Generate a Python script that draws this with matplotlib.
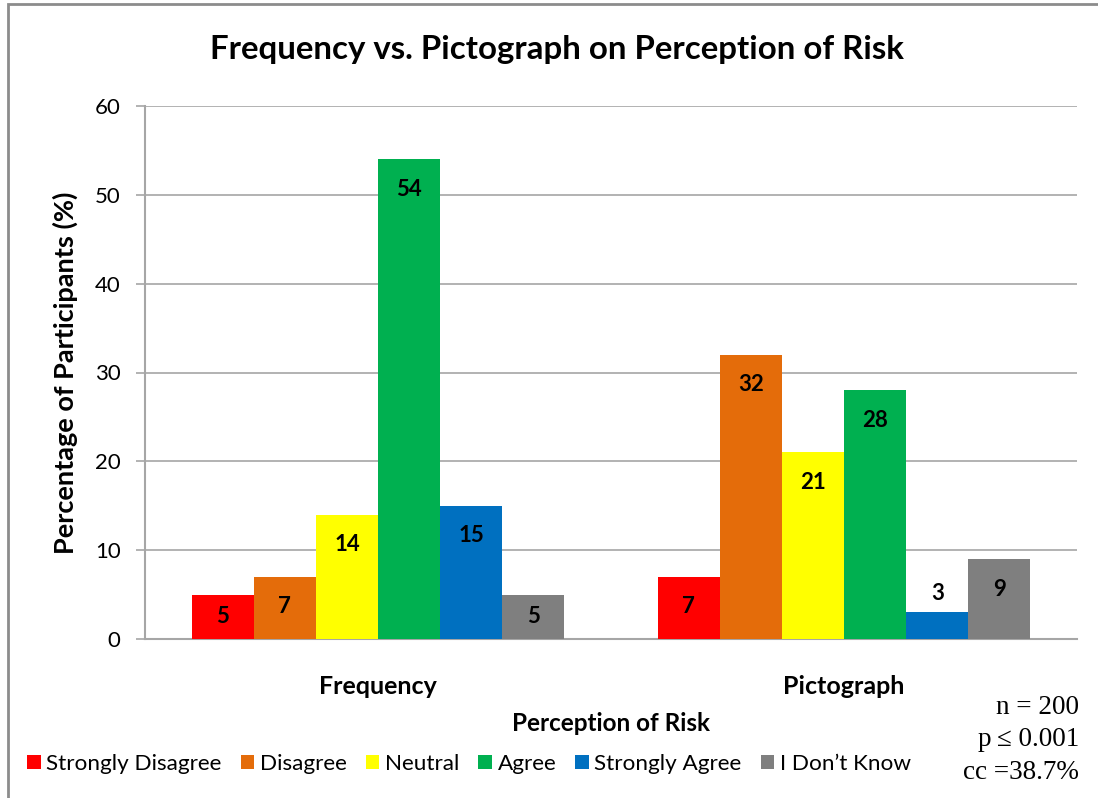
import numpy as np
import matplotlib
matplotlib.use("Agg")
from matplotlib import pyplot as plt
from matplotlib.patches import Rectangle

groups = ['Frequency', 'Pictograph']
responses = ['Strongly Disagree', 'Disagree', 'Neutral', 'Agree',
             'Strongly Agree', 'I Don\u2019t Know']
frequency = [5, 7, 14, 54, 15, 5]
pictograph = [7, 32, 21, 28, 3, 9]
colors = ['#FF0000', '#E46C0A', '#FFFF00', '#00B050', '#0070C0', '#7F7F7F']
yticks = [0, 10, 20, 30, 40, 50, 60]
stats = 'n = 200\np\u2009\u2264 0.001\ncc =38.7%'

plt.rcParams['font.family'] = ['Lato', 'DejaVu Sans']

fig = plt.figure(figsize=(10.98, 7.98), dpi=100)
ax = fig.add_axes([145/1098, 1-639/798, 932/1098, 533/798])

# chart border (cut off at right and bottom like the screenshot)
fig.patches.append(Rectangle((8/1098, -0.05), 1.1, 1-4/798+0.05,
                             transform=fig.transFigure, fill=False,
                             edgecolor='#8c8c8c', linewidth=2))

data = np.array([frequency, pictograph])
x = np.arange(len(groups))
w = 0.8/len(responses)
for i, (name, col) in enumerate(zip(responses, colors)):
    pos = x - 0.4 + w*(i+0.5)
    vals = data[:, i]
    ax.bar(pos, vals, w, color=col, label=name, zorder=3)
    for px, v in zip(pos, vals):
        if v >= 6:
            ax.annotate(str(v), (px, v), xytext=(0, -30), textcoords='offset pixels',
                        ha='center', va='center', fontsize=16, fontweight='bold')
        elif v >= 4:
            ax.annotate(str(v), (px, v/2), ha='center', va='center',
                        fontsize=16, fontweight='bold')
        else:
            ax.annotate(str(v), (px, v), xytext=(0, 19), textcoords='offset pixels',
                        ha='center', va='center', fontsize=16, fontweight='bold')

ax.set_xlim(-0.5, 1.5)
ax.set_ylim(0, 60)
ax.set_yticks(yticks)
ax.set_xticks(x)
ax.set_xticklabels(groups, fontsize=18, fontweight='bold')
ax.tick_params(axis='x', length=0, pad=26)
ax.tick_params(axis='y', length=6.5, width=1.2, color='#a6a6a6', pad=11, labelsize=16)
ax.grid(axis='y', color='#a6a6a6', linewidth=1.2, zorder=0)
for s in ['top', 'right']:
    ax.spines[s].set_visible(False)
for s in ['left', 'bottom']:
    ax.spines[s].set_color('#a6a6a6')
    ax.spines[s].set_linewidth(1.5)

ax.set_ylabel('Percentage of Participants (%)', fontsize=19.5, fontweight='bold', labelpad=12)
ax.set_xlabel('Perception of Risk', fontsize=17.5, fontweight='bold', labelpad=10)
fig.text(557/1098, 1-50/798, 'Frequency vs. Pictograph on Perception of Risk',
         ha='center', va='center', fontsize=23.8, fontweight='bold')

fig.legend(loc='center left', bbox_to_anchor=(18/1098, 1-764/798), ncol=6,
           frameon=False, fontsize=16.2, handlelength=0.6, handleheight=0.6,
           handletextpad=0.25, columnspacing=0.85, borderaxespad=0)

fig.text(1079/1098, 1-740/798, stats, ha='right', va='center', fontsize=19.5,
         family=['Liberation Serif', 'DejaVu Serif'], linespacing=1.42)

fig.savefig('out.png', dpi=100)
